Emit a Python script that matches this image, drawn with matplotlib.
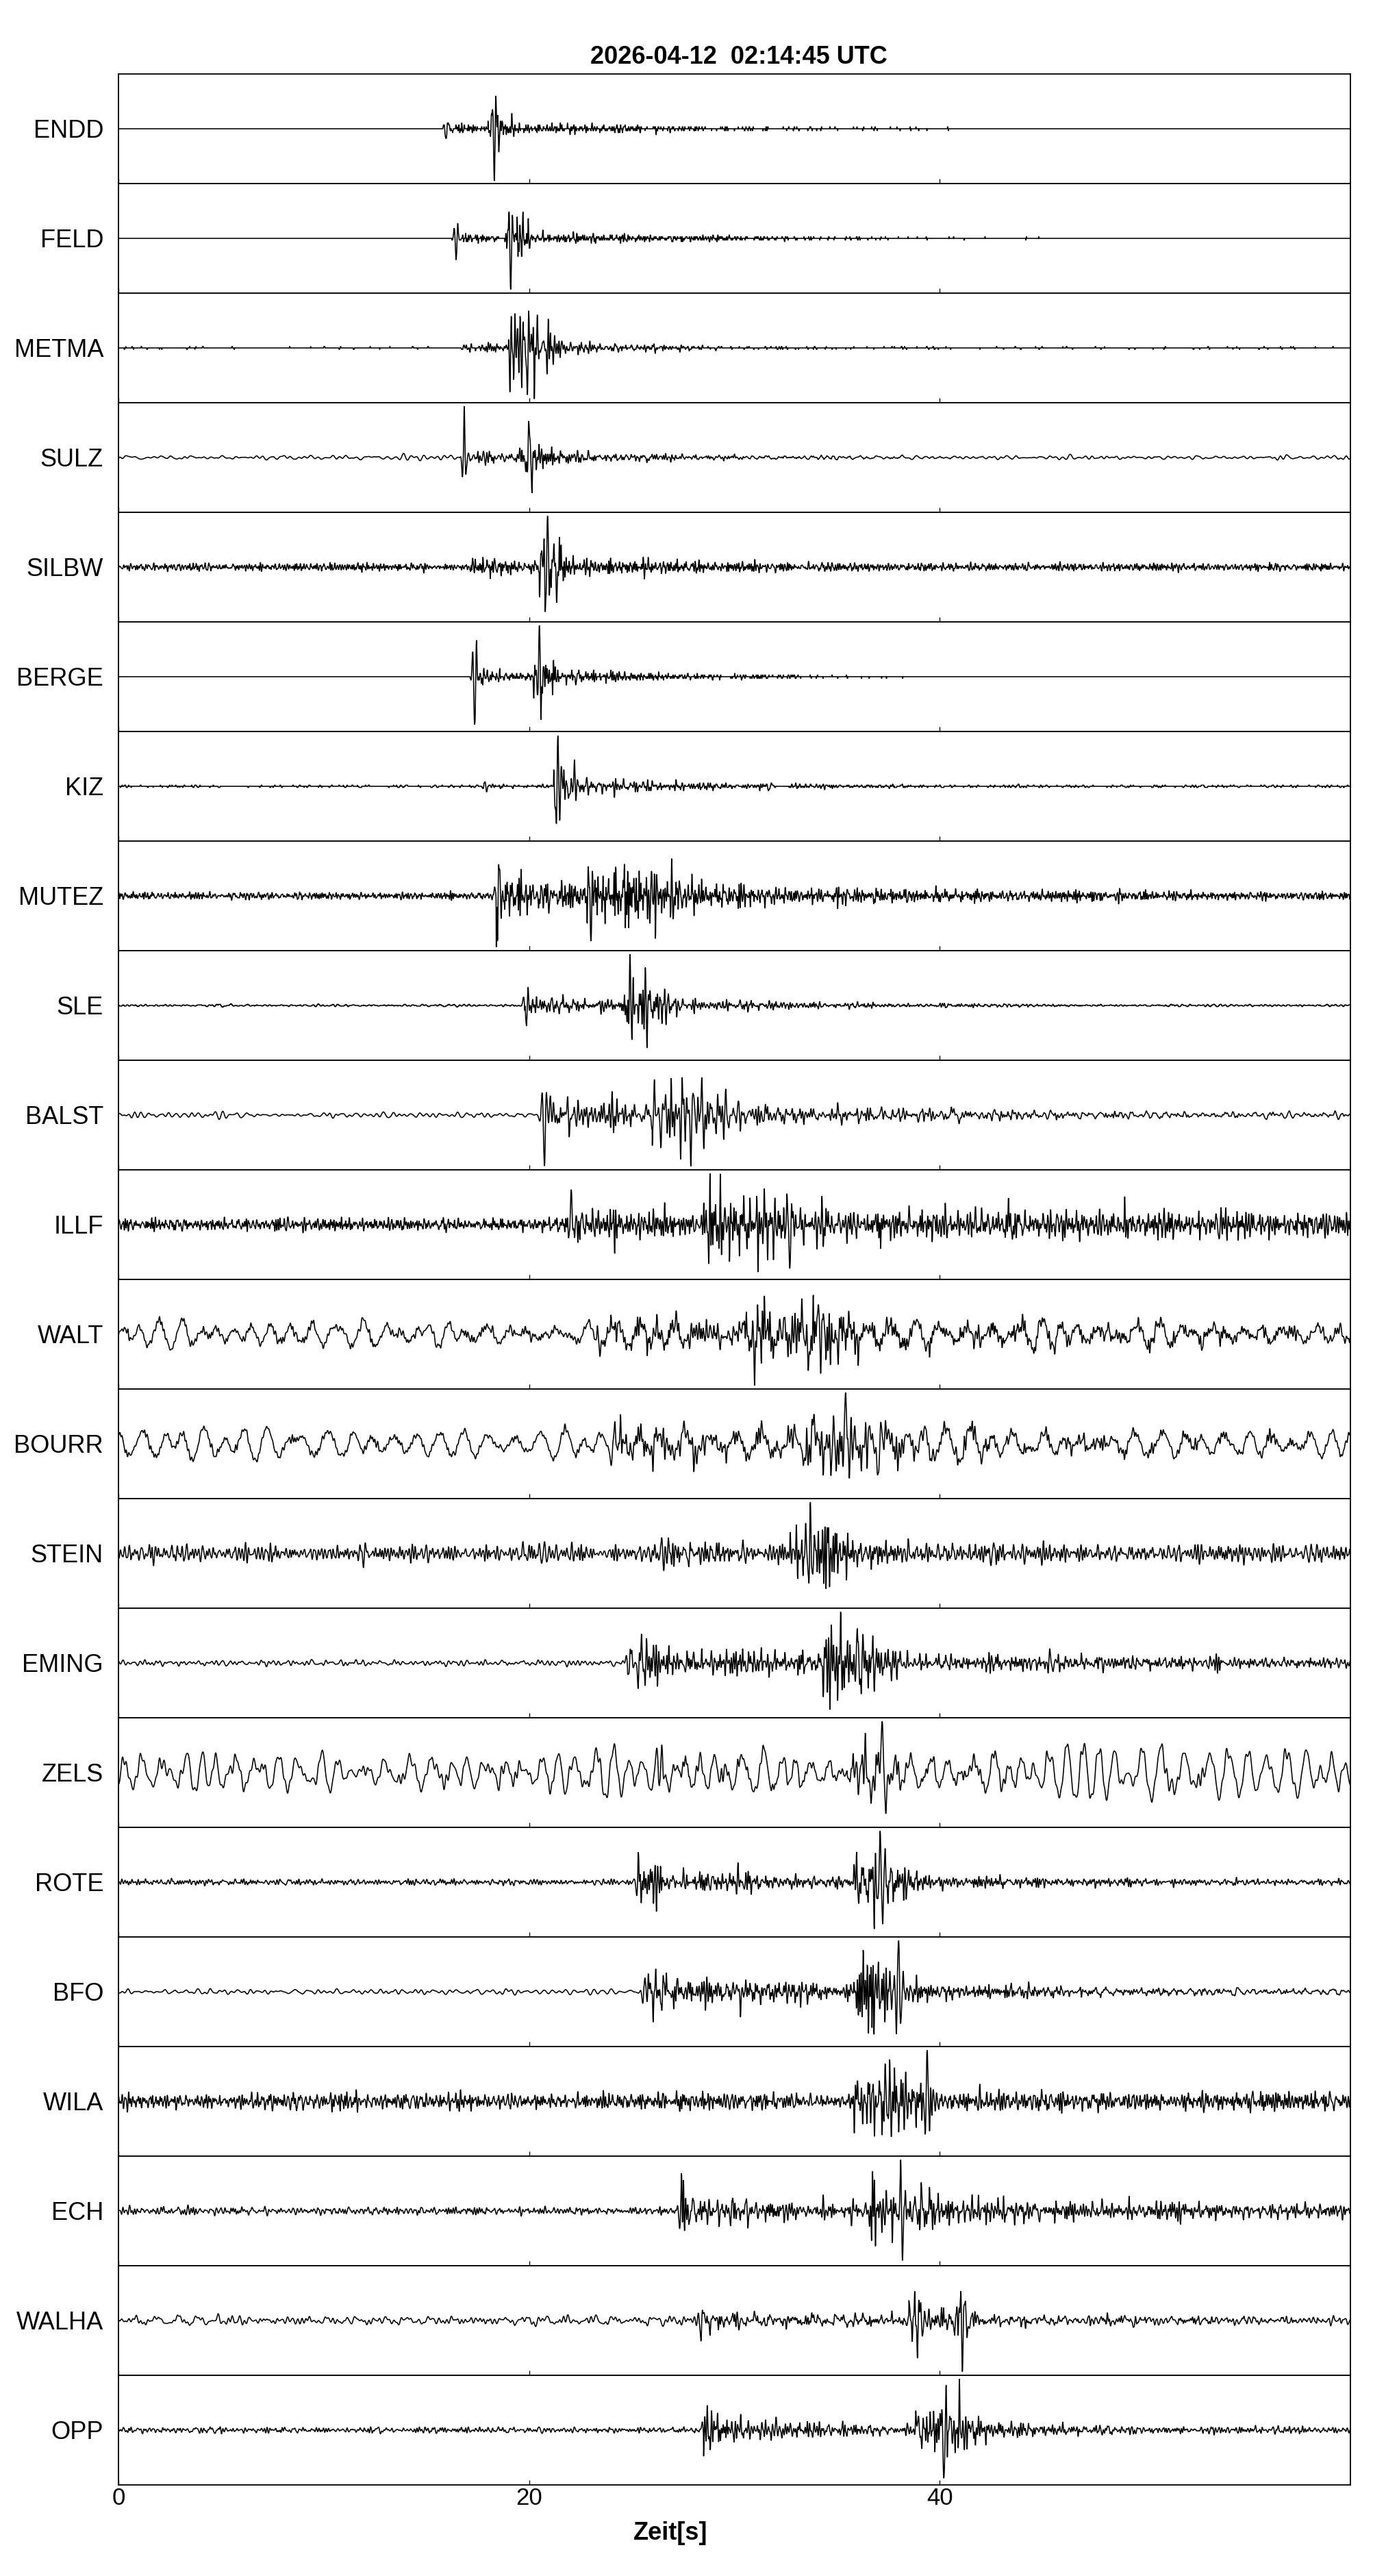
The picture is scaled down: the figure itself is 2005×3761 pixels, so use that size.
import numpy as np
import matplotlib
matplotlib.use("Agg")
import matplotlib.pyplot as plt

plt.rcParams['font.family'] = ['Liberation Sans', 'DejaVu Sans']

# ---------------- data ----------------
title_text = "2026-04-12  02:14:45 UTC"
xlabel_text = "Zeit[s]"
x_ticks = [0, 20, 40]
x_tick_labels = ["0", "20", "40"]

stations = ["ENDD", "FELD", "METMA", "SULZ", "SILBW", "BERGE", "KIZ", "MUTEZ",
            "SLE", "BALST", "ILLF", "WALT", "BOURR", "STEIN", "EMING", "ZELS",
            "ROTE", "BFO", "WILA", "ECH", "WALHA", "OPP"]

# P onset [s], signed first-motion amplitude, P-coda level, P-coda decay [s], early P burst level
p_time  = [15.9, 16.4, 16.8, 16.8, 17.2, 17.3, 17.8, 18.4, 19.8, 20.7, 22.0,
           23.3, 24.1, 26.4, 24.8, 26.3, 25.3, 25.6, 26.5, 27.4, 28.3, 28.5]
p_spike = [-0.20, -0.38, 0.06, 0.92, 0.15, -0.90, 0.12, -0.42, -0.52, -0.93, 0.30,
           0.30, 0.35, 0.30, -0.35, -0.70, 0.60, 0.40, 0.12, 0.92, -0.34, -0.25]
p_coda  = [0.14, 0.10, 0.06, 0.22, 0.15, 0.15, 0.06, 0.40, 0.28, 0.32, 0.28,
           0.28, 0.32, 0.18, 0.32, 0.15, 0.25, 0.28, 0.06, 0.38, 0.18, 0.22]
p_tau   = [3, 3, 8, 4, 5, 3, 4, 20, 10, 15, 30,
           30, 20, 10, 30, 10, 15, 15, 10, 20, 20, 15]
p_burst = [0.0, 0.0, 0.0, 0.10, 0.0, 0.05, 0.0, 0.30, 0.15, 0.20, 0.10,
           0.05, 0.15, 0.10, 0.25, 0.10, 0.45, 0.30, 0.0, 0.80, 0.15, 0.18]

# S-wave train: start [s], strong-phase duration [s], level, time and signed amplitude of largest swing
s_time  = [18.0, 18.9, 19.0, 19.5, 20.5, 20.2, 21.2, 22.8, 24.5, 26.0, 28.5,
           30.5, 33.5, 32.7, 34.3, 35.5, 35.8, 35.8, 35.8, 36.5, 38.5, 38.8]
s_width = [1.2, 1.2, 2.0, 1.5, 1.5, 1.2, 1.5, 5.0, 2.5, 4.0, 5.0,
           7.0, 4.5, 3.5, 3.0, 2.5, 2.5, 2.5, 3.5, 4.5, 3.0, 3.0]
s_level = [0.40, 0.35, 0.65, 0.45, 0.55, 0.40, 0.55, 0.62, 0.70, 0.60, 0.55,
           0.55, 0.60, 0.75, 0.60, 0.40, 0.60, 0.65, 0.60, 0.65, 0.60, 0.55]
s_peak  = [18.3, 19.1, 19.9, 20.0, 20.9, 20.5, 21.4, 23.0, 24.9, 28.0, 32.7,
           34.2, 35.4, 33.7, 36.0, 37.2, 37.1, 38.0, 39.4, 38.2, 41.1, 40.2]
s_spike = [-0.93, -0.93, -0.80, 0.66, 0.92, 0.91, 0.91, -0.91, 0.93, 0.50, -0.92,
           -0.92, 0.93, 0.91, 0.91, 0.92, 0.92, 0.91, 0.91, -0.79, -0.93, -0.92]
coda_level = [0.14, 0.12, 0.14, 0.20, 0.16, 0.15, 0.20, 0.24, 0.22, 0.22, 0.28,
              0.22, 0.22, 0.24, 0.22, 0.14, 0.22, 0.22, 0.20, 0.28, 0.22, 0.22]
coda_tau = [11, 11, 6, 7, 10, 7, 8, 8, 7, 10, 100,
            8, 8, 15, 6, 8, 6, 6, 20, 30, 6, 6]

# background noise: level, band [Hz]; ocean microseism level and period [s]
noise_amp  = [0.004, 0.006, 0.012, 0.05, 0.06, 0.006, 0.02, 0.08, 0.03, 0.06, 0.12,
              0.10, 0.07, 0.18, 0.06, 0.16, 0.06, 0.05, 0.15, 0.10, 0.09, 0.05]
noise_fmin = [1, 1, 1, 0.5, 2, 1, 1, 2, 1, 0.8, 2,
              1, 1, 2, 0.8, 1, 1, 0.8, 2, 1, 0.8, 1]
noise_fmax = [10, 10, 10, 4, 14, 10, 8, 14, 6, 4, 14,
              10, 10, 9, 6, 6, 10, 4, 12, 10, 6, 10]
micro_amp    = [0, 0, 0, 0, 0, 0, 0, 0, 0, 0, 0,
                0.23, 0.25, 0, 0, 0.42, 0, 0, 0, 0, 0.05, 0]
micro_period = [1, 1, 1, 1, 1, 1, 1, 1, 1, 1, 1,
                1.05, 1.15, 1, 1, 0.85, 1, 1, 1, 1, 1.0, 1]
# signal band [Hz], dominant frequency of the big swings [Hz], digitiser step
sig_fmin = [2, 2, 1.5, 1.5, 2, 2, 1.5, 1.5, 1.5, 1.2, 1.5,
            1.5, 1.2, 1.5, 1.5, 1.2, 1.5, 1.5, 1.5, 1.5, 1.5, 1.5]
sig_fmax = [16, 16, 12, 12, 15, 15, 12, 15, 12, 10, 12,
            12, 10, 12, 12, 10, 12, 12, 12, 12, 12, 12]
spike_freq = [5, 5, 4, 5, 5, 5, 5, 4, 4, 4, 4,
              4, 3, 4, 4, 3, 4, 4, 4, 4, 4, 4]
quant = [0.035, 0.03, 0.025, 0, 0, 0.03, 0.02, 0, 0.01, 0, 0,
         0, 0, 0, 0, 0, 0, 0, 0, 0, 0, 0]

# ---------------- figure geometry ----------------
W, H = 2005, 3761
left_px, right_px, top_px, bottom_px = 173, 1972, 108, 3628
fig = plt.figure(figsize=(W / 100, H / 100), dpi=100)
n = len(stations)
ph = (bottom_px - top_px) / n

DT = 0.01
t = np.arange(0.0, 60.0, DT)
N = t.size
freqs = np.fft.rfftfreq(N, DT)
idx = np.arange(N, dtype=float)


def carrier(fmin, fmax, shift):
    # deterministic hash sequence (no RNG), band-limited through the FFT
    w = np.mod(np.sin(idx * 12.9898 + shift * 78.233 + 0.5) * 43758.5453, 1.0) - 0.5
    spec = np.fft.rfft(w)
    taper = np.clip((freqs - 0.8 * fmin) / (0.4 * fmin), 0, 1) * \
        np.clip((1.2 * fmax - freqs) / (0.4 * fmax), 0, 1)
    s = np.fft.irfft(spec * taper, n=N)
    return s / s.std()


def spiky(c, power):
    out = np.sign(c) * np.abs(c) ** power
    return out / out.std()


def flatten(c, alpha):
    X = np.fft.fft(c)
    h = np.zeros(N)
    h[0] = 1
    h[1:N // 2] = 2
    h[N // 2] = 1
    a = np.abs(np.fft.ifft(X * h))
    out = c / (a + 0.05) ** alpha
    return out / out.std()


def gabor(tc, amp, f):
    d = 0.55 / f
    return amp * np.cos(2 * np.pi * f * (t - tc)) * np.exp(-((t - tc) / d) ** 2)


for i, name in enumerate(stations):
    bottom = 1 - (top_px + (i + 1) * ph) / H
    ax = fig.add_axes([left_px / W, bottom, (right_px - left_px) / W, ph / H])

    y = noise_amp[i] / 2.2 * carrier(noise_fmin[i], noise_fmax[i], 3 * i + 1)
    if micro_amp[i] > 0:
        f0 = 1.0 / micro_period[i]
        mc = flatten(carrier(0.65 * f0, 1.35 * f0, 3 * i + 2), 0.3)
        y = y + micro_amp[i] / 1.7 * mc

    e_p = np.zeros_like(t)
    mp = t >= p_time[i]
    dt_p = t[mp] - p_time[i]
    e_p[mp] = p_coda[i] * np.exp(-dt_p / p_tau[i]) + p_burst[i] * np.exp(-dt_p / 0.8)
    ms = t >= s_time[i]
    mid = s_time[i] + s_width[i] / 2
    burst = np.where(t <= mid, 1.0, np.exp(-((t - mid) / (s_width[i] / 2)) ** 2))
    e_s = np.where(ms, s_level[i] * burst, 0.0)
    e_c = np.where(ms, coda_level[i] * np.exp(-(t - s_time[i]) / coda_tau[i]), 0.0)
    env = np.sqrt(e_p ** 2 + e_s ** 2 + e_c ** 2)
    y = y + env / 2.5 * spiky(carrier(sig_fmin[i], sig_fmax[i], 3 * i + 3), 1.35)

    y = y + gabor(p_time[i] + 0.04, p_spike[i], spike_freq[i])
    y = y + gabor(s_peak[i], s_spike[i], spike_freq[i])

    y = y / np.abs(y).max() * 0.93
    if quant[i] > 0:
        y = np.round(y / quant[i]) * quant[i]

    ax.plot(t, y, color='black', lw=1.15)
    ax.set_xlim(0, 60)
    ax.set_ylim(-1, 1)
    ax.set_yticks([])
    ax.set_xticks(x_ticks)
    ax.set_xticklabels(x_tick_labels)
    ax.tick_params(axis='x', direction='in', length=5, width=1.0,
                   labelbottom=(i == n - 1), labelsize=25, pad=2)
    for sp in ax.spines.values():
        sp.set_linewidth(1.3)
    ax.annotate(name, xy=(0, 0), xycoords=('axes fraction', 'data'),
                xytext=(-22 * 0.72, -13 * 0.72), textcoords='offset points',
                ha='right', va='baseline', fontsize=26)

fig.text(1079 / W, 1 - 93 / H, title_text, ha='center', va='baseline',
         fontsize=26, fontweight='bold')
fig.text(979 / W, 1 - 3708 / H, xlabel_text, ha='center', va='baseline',
         fontsize=26, fontweight='bold')

fig.savefig("out.png", dpi=100)
